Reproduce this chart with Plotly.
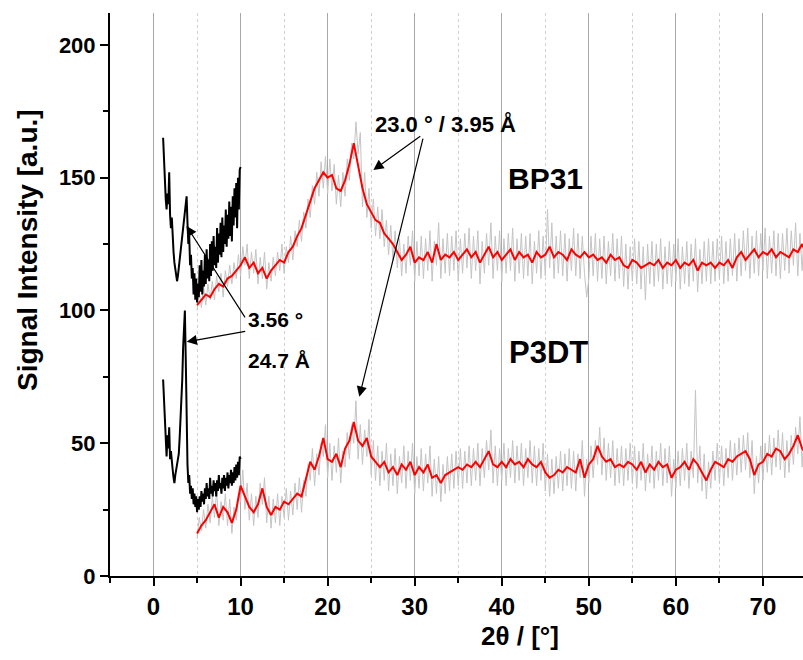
import plotly.graph_objects as go

# ---------------- data ----------------
# smoothed curves (red), 2theta 5..75 step 0.5
red_x = [5.0 + 0.5 * i for i in range(141)]
bp31_red = [102, 104, 106, 105, 108, 110, 109, 112, 113, 115,
            117, 120, 116, 118, 114, 116, 112, 115, 117, 119,
            118, 122, 124, 128, 131, 136, 141, 146, 149, 152,
            150, 151, 146, 145, 149, 155, 163, 155, 146, 140,
            137, 134, 133, 129, 127, 125, 122, 119, 121, 124,
            118, 120, 119, 122, 118, 125, 119, 121, 120, 122,
            119, 121, 123, 120, 122, 118, 121, 124, 120, 122,
            119, 121, 123, 119, 122, 120, 121, 118, 122, 120,
            121, 124, 120, 122, 121, 119, 123, 121, 120, 122,
            120, 121, 119, 120, 118, 121, 119, 120, 117, 116,
            119, 118, 116, 117, 118, 117, 119, 116, 118, 117,
            119, 116, 118, 117, 119, 115, 118, 117, 118, 116,
            118, 117, 119, 116, 120, 122, 119, 121, 123, 120,
            122, 121, 123, 120, 122, 121, 120, 123, 122, 125,
            121]
p3dt_red = [16, 19, 21, 24, 27, 22, 26, 24, 20, 25,
            34, 30, 26, 24, 27, 33, 26, 23, 26, 25,
            28, 27, 29, 31, 30, 36, 43, 40, 45, 52,
            44, 43, 46, 41, 48, 51, 58, 51, 49, 52,
            45, 43, 41, 43, 39, 41, 38, 42, 40, 43,
            38, 41, 39, 42, 37, 38, 35, 38, 39, 40,
            41, 40, 42, 41, 43, 41, 44, 47, 42, 41,
            43, 41, 44, 42, 43, 41, 44, 42, 41, 43,
            39, 37, 38, 40, 39, 41, 40, 39, 44, 37,
            42, 44, 49, 45, 43, 44, 41, 42, 41, 43,
            42, 40, 43, 39, 42, 40, 43, 41, 42, 37,
            40, 41, 43, 40, 44, 42, 39, 36, 40, 43,
            42, 41, 44, 43, 45, 46, 47, 44, 38, 42,
            43, 46, 45, 48, 47, 44, 46, 49, 53, 48,
            46]

# raw curves (grey), 2theta 5..75 step 0.25
raw_x = [5.0 + 0.25 * i for i in range(281)]
bp31_raw = [
    100, 107, 101, 109, 102, 110, 104, 111, 104, 113, 107, 114,
    105, 115, 109, 117, 110, 118, 112, 121, 113, 124, 117, 125,
    112, 122, 114, 123, 110, 120, 112, 122, 108, 118, 111, 120,
    113, 122, 115, 125, 114, 124, 118, 128, 119, 130, 124, 134,
    126, 137, 131, 142, 135, 147, 140, 152, 143, 156, 146, 158,
    144, 157, 145, 155, 140, 151, 139, 152, 143, 157, 149, 163,
    157, 171, 159, 167, 139, 152, 135, 146, 131, 142, 128, 139,
    127, 138, 124, 134, 121, 132, 119, 130, 116, 127, 113, 125,
    114, 128, 117, 130, 111, 126, 113, 128, 112, 127, 115, 130,
    111, 126, 117, 133, 112, 127, 114, 129, 113, 128, 115, 130,
    111, 127, 114, 129, 116, 131, 112, 128, 115, 130, 110, 126,
    114, 129, 117, 133, 112, 128, 115, 130, 111, 127, 114, 129,
    115, 131, 111, 127, 114, 129, 112, 128, 113, 129, 110, 126,
    114, 130, 112, 128, 113, 138, 116, 133, 112, 128, 114, 130,
    113, 129, 111, 127, 115, 131, 113, 129, 112, 128, 114, 105,
    112, 128, 113, 129, 111, 127, 112, 128, 110, 126, 113, 129,
    111, 127, 112, 128, 109, 125, 108, 124, 111, 127, 110, 126,
    108, 124, 104, 125, 110, 126, 109, 125, 111, 127, 108, 124,
    110, 126, 109, 125, 111, 127, 108, 124, 110, 126, 109, 125,
    111, 127, 107, 123, 110, 126, 111, 127, 110, 126, 111, 127,
    112, 128, 110, 126, 111, 127, 113, 129, 111, 127, 113, 130,
    115, 131, 112, 128, 114, 130, 113, 129, 115, 131, 112, 128,
    114, 130, 113, 129, 112, 129, 115, 131, 114, 130, 117, 133,
    113, 129, 115, 131, 116]
p3dt_raw = [
    14, 22, 17, 25, 18, 27, 20, 30, 22, 32, 19, 28,
    21, 31, 19, 29, 16, 26, 21, 31, 28, 40, 25, 35,
    21, 31, 19, 30, 22, 35, 27, 37, 20, 30, 18, 29,
    20, 31, 19, 30, 22, 33, 21, 32, 23, 35, 25, 37,
    24, 36, 30, 42, 36, 48, 34, 46, 38, 50, 45, 57,
    37, 50, 36, 49, 39, 52, 35, 47, 41, 54, 44, 57,
    50, 66, 44, 57, 42, 55, 45, 59, 38, 51, 36, 49,
    34, 47, 36, 50, 32, 46, 34, 48, 31, 45, 35, 49,
    33, 47, 36, 50, 31, 45, 33, 48, 32, 46, 35, 49,
    30, 44, 31, 45, 28, 42, 31, 45, 32, 46, 33, 47,
    34, 48, 33, 47, 35, 49, 34, 48, 36, 50, 34, 48,
    37, 51, 40, 55, 35, 49, 34, 48, 36, 50, 34, 48,
    37, 51, 35, 49, 36, 50, 34, 48, 37, 51, 35, 49,
    34, 48, 36, 50, 32, 46, 30, 44, 31, 45, 33, 47,
    32, 46, 34, 48, 33, 47, 32, 46, 37, 51, 30, 44,
    35, 49, 37, 51, 42, 56, 38, 52, 36, 50, 37, 51,
    34, 48, 35, 49, 34, 48, 36, 50, 35, 49, 33, 47,
    36, 50, 32, 46, 35, 49, 33, 47, 36, 50, 34, 48,
    35, 49, 30, 44, 33, 47, 34, 48, 36, 50, 33, 47,
    37, 70, 35, 49, 32, 46, 29, 43, 33, 47, 36, 50,
    35, 49, 34, 48, 37, 51, 36, 50, 38, 52, 39, 53,
    40, 54, 37, 51, 31, 45, 35, 49, 36, 50, 39, 53,
    38, 52, 41, 55, 40, 54, 37, 51, 39, 53, 42, 56,
    46, 60, 41, 55, 39]

# low-angle scans (black), 2theta 1.1..10.0 step 0.1
low_x = [round(1.1 + 0.1 * i, 1) for i in range(90)]
bp31_low = [165, 155, 148, 142, 138, 144, 140, 152, 136, 131,
            135, 125, 122, 118, 115, 112, 111, 113, 116, 119,
            122, 126, 129, 131, 133, 138, 140, 143, 133, 125,
            128, 117, 121, 112, 116, 106, 114, 104, 112, 103,
            110, 105, 117, 107, 119, 106, 115, 109, 121, 110,
            123, 112, 119, 111, 125, 113, 126, 115, 128, 117,
            124, 116, 131, 118, 129, 121, 133, 120, 135, 122,
            132, 125, 138, 124, 136, 127, 141, 128, 139, 126,
            143, 132, 146, 135, 148, 131, 150, 138, 153, 154]
p3dt_low = [74, 66, 58, 50, 45, 53, 48, 56, 44, 47,
            42, 40, 37, 35, 38, 40, 43, 44, 46, 52,
            58, 66, 74, 86, 98, 100, 82, 60, 42, 35,
            38, 31, 34, 29, 33, 27, 31, 26, 30, 24,
            29, 25, 30, 26, 32, 28, 31, 27, 33, 29,
            35, 30, 33, 29, 37, 31, 34, 30, 36, 32,
            35, 30, 36, 32, 38, 33, 35, 31, 37, 33,
            38, 32, 37, 34, 39, 33, 38, 35, 40, 34,
            39, 35, 41, 36, 42, 37, 43, 38, 45, 44]

x_ticks = [0, 10, 20, 30, 40, 50, 60, 70]
y_ticks = [0, 50, 100, 150, 200]

# ---------------- figure ----------------
fig = go.Figure()
for yv in (bp31_raw, p3dt_raw):
    fig.add_trace(go.Scatter(x=raw_x, y=yv, mode="lines",
                             line=dict(color="#c4c4c4", width=1), showlegend=False))
for yv in (bp31_red, p3dt_red):
    fig.add_trace(go.Scatter(x=red_x, y=yv, mode="lines",
                             line=dict(color="#ff0000", width=2), showlegend=False))
for yv in (bp31_low, p3dt_low):
    fig.add_trace(go.Scatter(x=low_x, y=yv, mode="lines",
                             line=dict(color="#000000", width=2), showlegend=False))

FONT = "Liberation Sans, Arial, sans-serif"

annotations = []
# arrows: (tail x, tail y) -> (tip x, tip y)
arrows = [((10.62, 96.8), (3.79, 131.8)),
          ((10.70, 92.2), (3.81, 88.2)),
          ((30.81, 166.0), (25.25, 152.9)),
          ((30.99, 165.3), (23.64, 67.5))]
for (tx, ty), (hx, hy) in arrows:
    annotations.append(dict(x=hx, y=hy, ax=tx, ay=ty, xref="x", yref="y",
                            axref="x", ayref="y", text="", showarrow=True,
                            arrowhead=2, arrowsize=1.7, arrowwidth=1.2,
                            arrowcolor="black"))
labels = [("23.0 ° / 3.95 Å", 33.49, 170.2, "center", 22),
          ("BP31", 44.97, 149.5, "center", 30),
          ("P3DT", 45.31, 84.3, "center", 31),
          ("3.56 °", 10.62, 96.4, "left", 21),
          ("24.7 Å", 10.62, 81.3, "left", 21)]
for t, x, y, xa, sz in labels:
    annotations.append(dict(x=x, y=y, xref="x", yref="y", text="<b>%s</b>" % t,
                            showarrow=False, xanchor=xa, yanchor="middle",
                            font=dict(family=FONT, size=sz, color="black")))
annotations.append(dict(x=(27 - 110) / 693.0, y=(576 - 250) / 563.0,
                        xref="paper", yref="paper",
                        text="<b>Signal Intensity [a.u.]</b>", textangle=-90,
                        showarrow=False, xanchor="center", yanchor="middle",
                        font=dict(family=FONT, size=28, color="black")))
annotations.append(dict(x=(520 - 110) / 693.0, y=-0.1066, xref="paper", yref="paper",
                        text="<b>2θ / [°]</b>", showarrow=False,
                        xanchor="center", yanchor="middle",
                        font=dict(family=FONT, size=26, color="black")))

fig.update_layout(
    width=803, height=660,
    margin=dict(l=110, r=0, t=13, b=84),
    plot_bgcolor="white", paper_bgcolor="white",
    annotations=annotations,
    showlegend=False,
)
fig.update_xaxes(range=[-5, 74.6], tickvals=x_ticks,
                 ticktext=["<b>%d</b>" % v for v in x_ticks],
                 showline=True, linecolor="black",
                 linewidth=2, ticks="outside", ticklen=8, tickwidth=2, tickcolor="black",
                 showgrid=True, gridcolor="#a8a8a8", gridwidth=1, zeroline=False,
                 tickfont=dict(family=FONT, size=24, color="black"),
                 minor=dict(tick0=0, dtick=5, ticks="outside", ticklen=5, tickwidth=2,
                            tickcolor="black", showgrid=True, gridcolor="#d0d0d0",
                            griddash="dot", gridwidth=1))
fig.update_yaxes(range=[0, 212], tickvals=y_ticks,
                 ticktext=["<b>%d</b>" % v for v in y_ticks],
                 showline=True, linecolor="black",
                 linewidth=2, ticks="outside", ticklen=8, tickwidth=2, tickcolor="black",
                 showgrid=False, zeroline=False,
                 tickfont=dict(family=FONT, size=22, color="black"),
                 minor=dict(tick0=0, dtick=25, ticks="outside", ticklen=5, tickwidth=2,
                            tickcolor="black", showgrid=False))

fig.write_html("out.html")
